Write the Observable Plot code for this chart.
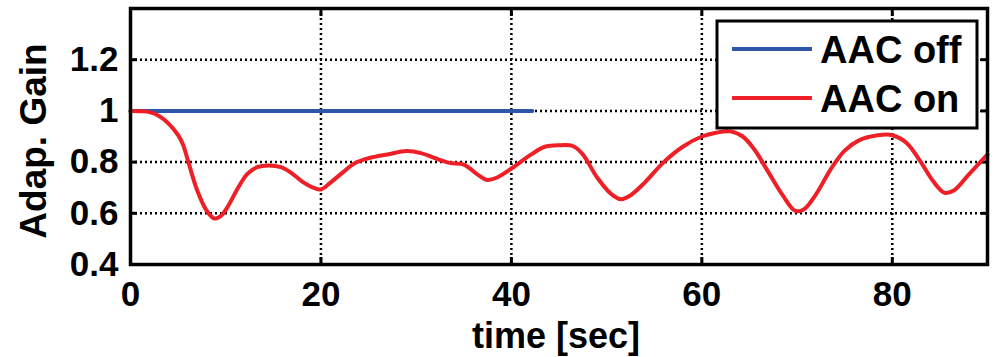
<!DOCTYPE html>
<html>
<head>
<meta charset="utf-8">
<script src="https://cdn.jsdelivr.net/npm/d3@7"></script>
<script src="https://cdn.jsdelivr.net/npm/@observablehq/plot@0.6"></script>
<style>
  html, body { margin: 0; padding: 0; background: #fff; }
</style>
</head>
<body>
<div id="chart"></div>
<script>
// ---- data ----
const seriesNames = ["AAC off", "AAC on"];
const seriesColors = ["#2f55a8", "#ee1f26"];
const offTime = [0, 42.2];
const offGain = [1, 1];
const onTime = [0, 1, 2, 3, 4, 5, 5.5, 6, 7, 8, 8.8, 9.5, 10.2, 11.3, 12.3, 13.3, 14.5, 15.8, 16.8, 18, 19.2, 20, 21, 22.3, 23.5, 25, 27, 29, 30.5, 32, 33.5, 35, 36.5, 37.5, 38.5, 40, 42, 43.5, 45, 46.5, 47.5, 49, 50.5, 51.5, 52.5, 54, 56, 58, 60, 61.5, 63, 64.3, 65.5, 67, 68.5, 69.8, 70.7, 72, 73.5, 75, 76.5, 78.5, 80, 81.5, 83, 84.3, 85.5, 86.5, 88, 90];
const onGain = [1.0, 0.999, 0.995, 0.98, 0.95, 0.905, 0.87, 0.81, 0.69, 0.61, 0.58, 0.59, 0.625, 0.70, 0.755, 0.78, 0.787, 0.78, 0.76, 0.725, 0.70, 0.693, 0.72, 0.76, 0.795, 0.815, 0.83, 0.843, 0.835, 0.815, 0.797, 0.79, 0.75, 0.73, 0.74, 0.775, 0.828, 0.86, 0.866, 0.862, 0.83, 0.74, 0.675, 0.655, 0.67, 0.72, 0.80, 0.86, 0.90, 0.915, 0.92, 0.90, 0.85, 0.76, 0.67, 0.61, 0.615, 0.675, 0.77, 0.845, 0.885, 0.905, 0.905, 0.875, 0.80, 0.725, 0.68, 0.69, 0.75, 0.83];
const xTicks = [0, 20, 40, 60, 80];
const yTicks = [0.4, 0.6, 0.8, 1, 1.2];
const yTickLabels = ["0.4", "0.6", "0.8", "1", "1.2"];
const xLabel = "time [sec]";
const yLabel = "Adap. Gain";

const offData = offTime.map((t, i) => ({t, g: offGain[i]}));
const onData = onTime.map((t, i) => ({t, g: onGain[i]}));

const font = "'Liberation Sans', Arial, sans-serif";
const grid = {stroke: "black", strokeOpacity: 1, strokeWidth: 2.5, strokeDasharray: "2,3"};

const chart = Plot.plot({
  width: 994,
  height: 357,
  marginLeft: 130,
  marginRight: 7,
  marginTop: 8,
  marginBottom: 93,
  style: {fontFamily: font, fontWeight: "bold", fontSize: "35px", color: "black", background: "white"},
  x: {domain: [0, 90]},
  y: {domain: [0.4, 1.4]},
  marks: [
    Plot.gridX(xTicks, grid),
    Plot.gridY(yTicks, grid),
    Plot.axisX(xTicks, {tickSize: 0, tickPadding: 17, label: null, fontSize: 35, fontWeight: "bold"}),
    Plot.axisX(xTicks, {tickSize: -7, strokeWidth: 3, tickFormat: () => "", label: null}),
    Plot.axisX(xTicks, {anchor: "top", tickSize: -7, strokeWidth: 3, tickFormat: () => "", label: null}),
    Plot.axisY(yTicks, {tickSize: 0, tickPadding: 12, label: null, tickFormat: (d) => yTickLabels[yTicks.indexOf(d)], fontSize: 35, fontWeight: "bold"}),
    Plot.axisY(yTicks, {tickSize: -7, strokeWidth: 3, tickFormat: () => "", label: null}),
    Plot.axisY(yTicks, {anchor: "right", tickSize: -7, strokeWidth: 3, tickFormat: () => "", label: null}),
    Plot.line(offData, {x: "t", y: "g", stroke: seriesColors[0], strokeWidth: 4}),
    Plot.line(onData, {x: "t", y: "g", stroke: seriesColors[1], strokeWidth: 4, curve: "catmull-rom"}),
    Plot.frame({stroke: "black", strokeWidth: 3.5})
  ]
});

document.getElementById("chart").appendChild(chart);

const svg = d3.select(chart);

// ---- axis titles ----
svg.append("text")
  .attr("x", 556).attr("y", 348)
  .attr("text-anchor", "middle")
  .attr("font-family", font).attr("font-weight", "bold").attr("font-size", 36)
  .attr("fill", "black")
  .text(xLabel);
svg.append("text")
  .attr("transform", "translate(46,141) rotate(-90)")
  .attr("text-anchor", "middle")
  .attr("font-family", font).attr("font-weight", "bold").attr("font-size", 37)
  .attr("fill", "black")
  .text(yLabel);

// ---- legend (inside the axes, top-right) ----
const lg = svg.append("g").attr("font-family", font).attr("font-weight", "bold");
lg.append("rect").attr("x", 717).attr("y", 21).attr("width", 260).attr("height", 107)
  .attr("fill", "white").attr("stroke", "black").attr("stroke-width", 3);
seriesNames.forEach((name, i) => {
  const cy = 49 + i * 49;
  lg.append("line").attr("x1", 732).attr("x2", 812).attr("y1", cy).attr("y2", cy)
    .attr("stroke", seriesColors[i]).attr("stroke-width", 4);
  lg.append("text").attr("x", 820).attr("y", cy + 14)
    .attr("text-anchor", "start").attr("font-size", 38).attr("fill", "black").text(name);
});
</script>
</body>
</html>
